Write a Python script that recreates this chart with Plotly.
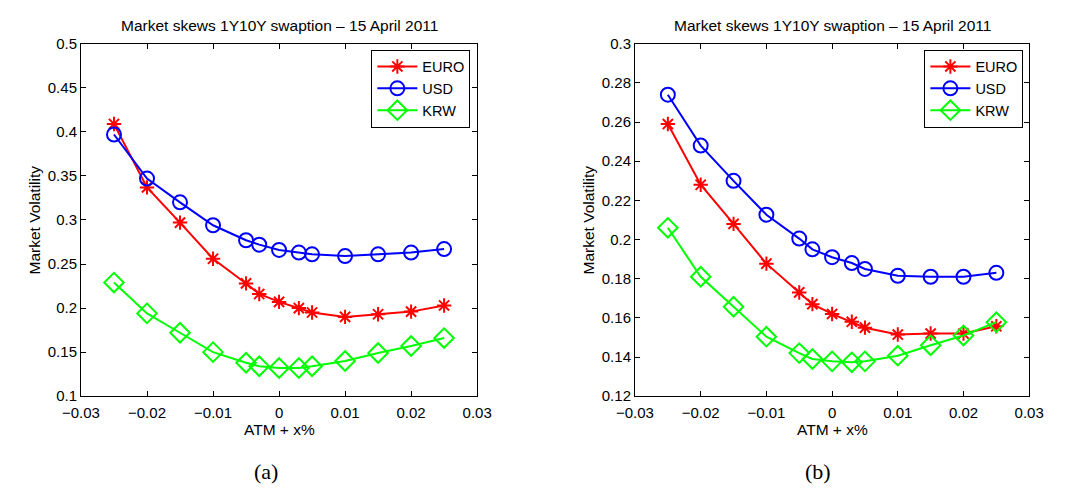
import plotly.graph_objects as go

# Strike offsets from ATM
x_offsets = [-0.025, -0.02, -0.015, -0.01, -0.005, -0.003, 0.0, 0.003, 0.005, 0.01, 0.015, 0.02, 0.025]

# Panel (a) market volatilities
euro_a = [0.409, 0.337, 0.297, 0.256, 0.228, 0.216, 0.207, 0.200, 0.195, 0.190, 0.193, 0.196, 0.203]
usd_a = [0.397, 0.347, 0.320, 0.294, 0.277, 0.272, 0.266, 0.263, 0.261, 0.259, 0.261, 0.263, 0.267]
krw_a = [0.229, 0.194, 0.172, 0.150, 0.138, 0.134, 0.132, 0.132, 0.134, 0.140, 0.149, 0.157, 0.166]

# Panel (b) market volatilities
euro_b = [0.259, 0.228, 0.208, 0.1877, 0.173, 0.167, 0.162, 0.158, 0.155, 0.1515, 0.152, 0.152, 0.1557]
usd_b = [0.274, 0.248, 0.230, 0.2127, 0.2005, 0.195, 0.191, 0.188, 0.185, 0.1815, 0.181, 0.181, 0.183]
krw_b = [0.206, 0.181, 0.1657, 0.1504, 0.142, 0.139, 0.1378, 0.1373, 0.1378, 0.1407, 0.146, 0.151, 0.1578]

x_ticks = [-0.03, -0.02, -0.01, 0, 0.01, 0.02, 0.03]
x_ticktext = ["\u22120.03", "\u22120.02", "\u22120.01", "0", "0.01", "0.02", "0.03"]
y_ticks_a = [0.1, 0.15, 0.2, 0.25, 0.3, 0.35, 0.4, 0.45, 0.5]
y_ticks_b = [0.12, 0.14, 0.16, 0.18, 0.2, 0.22, 0.24, 0.26, 0.28, 0.3]

title_text = "Market skews 1Y10Y swaption \u2013 15 April 2011"
x_label = "ATM + x%"
y_label = "Market Volatility"
captions = ["(a)", "(b)"]
series_names = ["EURO", "USD", "KRW"]
colors = ["#ff0000", "#0000ff", "#00ff00"]
symbols = ["asterisk-open", "circle-open", "diamond-open"]
sizes = [12, 14, 15]

FONT = "Liberation Sans, Arial, Helvetica, sans-serif"
W, H = 1081, 494

fig = go.Figure()

panels = [
    ("x", "y", "legend", [euro_a, usd_a, krw_a]),
    ("x2", "y2", "legend2", [euro_b, usd_b, krw_b]),
]
for xref, yref, leg, series in panels:
    for name, vals, c, sym, sz in zip(series_names, series, colors, symbols, sizes):
        fig.add_trace(go.Scatter(
            x=x_offsets, y=vals, name=name, mode="lines+markers",
            xaxis=xref, yaxis=yref, legend=leg,
            line=dict(color=c, width=2),
            marker=dict(symbol=sym, size=sz, color=c, line=dict(color=c, width=2)),
        ))

axis_common = dict(
    showline=True, linecolor="black", linewidth=1, mirror="ticks",
    ticks="inside", ticklen=5, tickcolor="black", showgrid=False, zeroline=False,
    tickfont=dict(family=FONT, size=15, color="black"),
)

dom_a = [64 / W, 473 / W]
dom_b = [636 / W, 1043 / W]
dom_y = [1 - 401 / H, 1 - 36 / H]

legend_common = dict(
    xanchor="right", yanchor="top", bordercolor="black", borderwidth=1, bgcolor="white",
    font=dict(family=FONT, size=14.5), itemwidth=40, tracegroupgap=0,
)

fig.update_layout(
    width=W, height=H,
    margin=dict(l=0, r=0, t=0, b=0),
    paper_bgcolor="white", plot_bgcolor="white",
    font=dict(family=FONT, color="black"),
    xaxis=dict(domain=dom_a, range=[-0.03, 0.03], tickvals=x_ticks, ticktext=x_ticktext,
               anchor="y", ticklabelstandoff=3, **axis_common),
    yaxis=dict(domain=dom_y, range=[0.1, 0.5], tickvals=y_ticks_a, anchor="x", **axis_common),
    xaxis2=dict(domain=dom_b, range=[-0.03, 0.03], tickvals=x_ticks, ticktext=x_ticktext,
                anchor="y2", ticklabelstandoff=3, **axis_common),
    yaxis2=dict(domain=dom_y, range=[0.12, 0.3], tickvals=y_ticks_b, anchor="x2", **axis_common),
    legend=dict(x=466 / W, y=1 - 42 / H, **legend_common),
    legend2=dict(x=1037 / W, y=1 - 42 / H, **legend_common),
    showlegend=True,
)

# Panel titles, axis labels and captions
y_mid = 1 - ((36 + 401) / 2) / H
for dom, ylab_x, cap_x, cap in [(dom_a, 16, 255, captions[0]), (dom_b, 588, 825, captions[1])]:
    cx = (dom[0] + dom[1]) / 2
    fig.add_annotation(x=cx, y=1 - 17 / H, xref="paper", yref="paper", text=title_text,
                       showarrow=False, xanchor="center", yanchor="middle",
                       font=dict(family=FONT, size=15.5, color="black"))
    fig.add_annotation(x=cx, y=1 - 435 / H, xref="paper", yref="paper", text=x_label,
                       showarrow=False, xanchor="center", yanchor="middle",
                       font=dict(family=FONT, size=15.5, color="black"))
    fig.add_annotation(x=ylab_x / W, y=y_mid, xref="paper", yref="paper", text=y_label,
                       showarrow=False, xanchor="center", yanchor="middle", textangle=-90,
                       font=dict(family=FONT, size=15.5, color="black"))
    fig.add_annotation(x=cap_x / W, y=1 - 479 / H, xref="paper", yref="paper", text=cap,
                       showarrow=False, xanchor="center", yanchor="middle",
                       font=dict(family="Liberation Serif, DejaVu Serif, serif", size=22, color="black"))

fig.write_html("out.html")
